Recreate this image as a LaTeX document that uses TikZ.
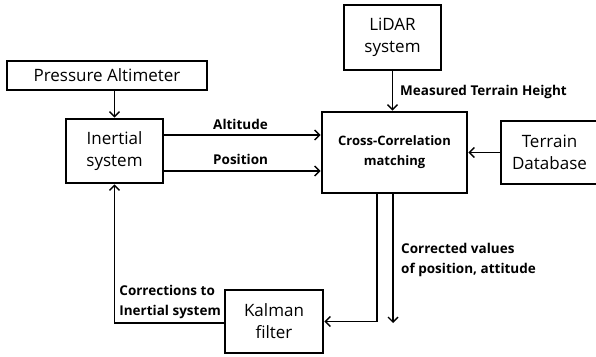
\documentclass[tikz,border=0pt]{standalone}
\usepackage{fontspec}
\setmainfont{Open Sans}
\usetikzlibrary{arrows.meta}
\tikzset{
  block/.style={draw, line width=2.6pt, rectangle, align=center, font=\fontsize{17}{22}\selectfont, inner sep=0pt},
  arr/.style={line width=1.4pt, -{Straight Barb[length=5pt,width=10pt,line width=1.4pt]}},
  lbl/.style={font=\bfseries\fontsize{13.5}{20}\selectfont, align=left, inner sep=0pt}
}
\begin{document}
\begin{tikzpicture}[x=1pt,y=-1pt]
  \useasboundingbox (0,0) rectangle (596,356);
  \clip (0,0) rectangle (596,356);
  % blocks
  \node[block, minimum width=200pt, minimum height=29pt] (pa) at (107,75.5) {Pressure Altimeter};
  \node[block, minimum width=97pt, minimum height=64pt] (ins) at (114.5,151) {Inertial\\system};
  \node[block, minimum width=97pt, minimum height=65pt] (lidar) at (392.5,37.5) {LiDAR\\system};
  \node[block, minimum width=145pt, minimum height=81pt, font=\bfseries\fontsize{13}{20}\selectfont] (cc) at (394.5,152.5) {Cross-Correlation\\matching};
  \node[block, minimum width=97pt, minimum height=63pt] (tdb) at (549.5,152.5) {Terrain\\Database};
  \node[block, minimum width=98pt, minimum height=63pt] (kal) at (274,321.5) {Kalman\\filter};
  % free end of the corrected-values output
  \coordinate (out) at (393,323);
  % connectors
  \draw[arr] (pa.south -| ins) -- (ins.north);
  \draw[arr] (ins.east |- 0,135) -- (cc.west |- 0,135);
  \draw[arr] (ins.east |- 0,171) -- (cc.west |- 0,171);
  \draw[arr] (lidar.south) -- (lidar.south |- cc.north);
  \draw[arr] (tdb.west) -- (cc.east |- tdb.west);
  \draw[arr] (cc.south -| 377,0) |- (kal.east);
  \draw[arr] (cc.south -| out) -- (out);
  \draw[arr] (kal.west |- 0,323) -| (ins.south);
  % labels
  \node[lbl, anchor=west] (lalt) at (213,124) {Altitude};
  \node[lbl, anchor=west] (lpos) at (213,159) {Position};
  \node[lbl, anchor=west] (lmth) at (400,92) {Measured Terrain Height};
  \node[lbl, anchor=west] (lcv) at (401,260) {Corrected values\\of position, attitude};
  \node[lbl, anchor=east] (lci) at (221,302) {Corrections to\\Inertial system};
\end{tikzpicture}
\end{document}
